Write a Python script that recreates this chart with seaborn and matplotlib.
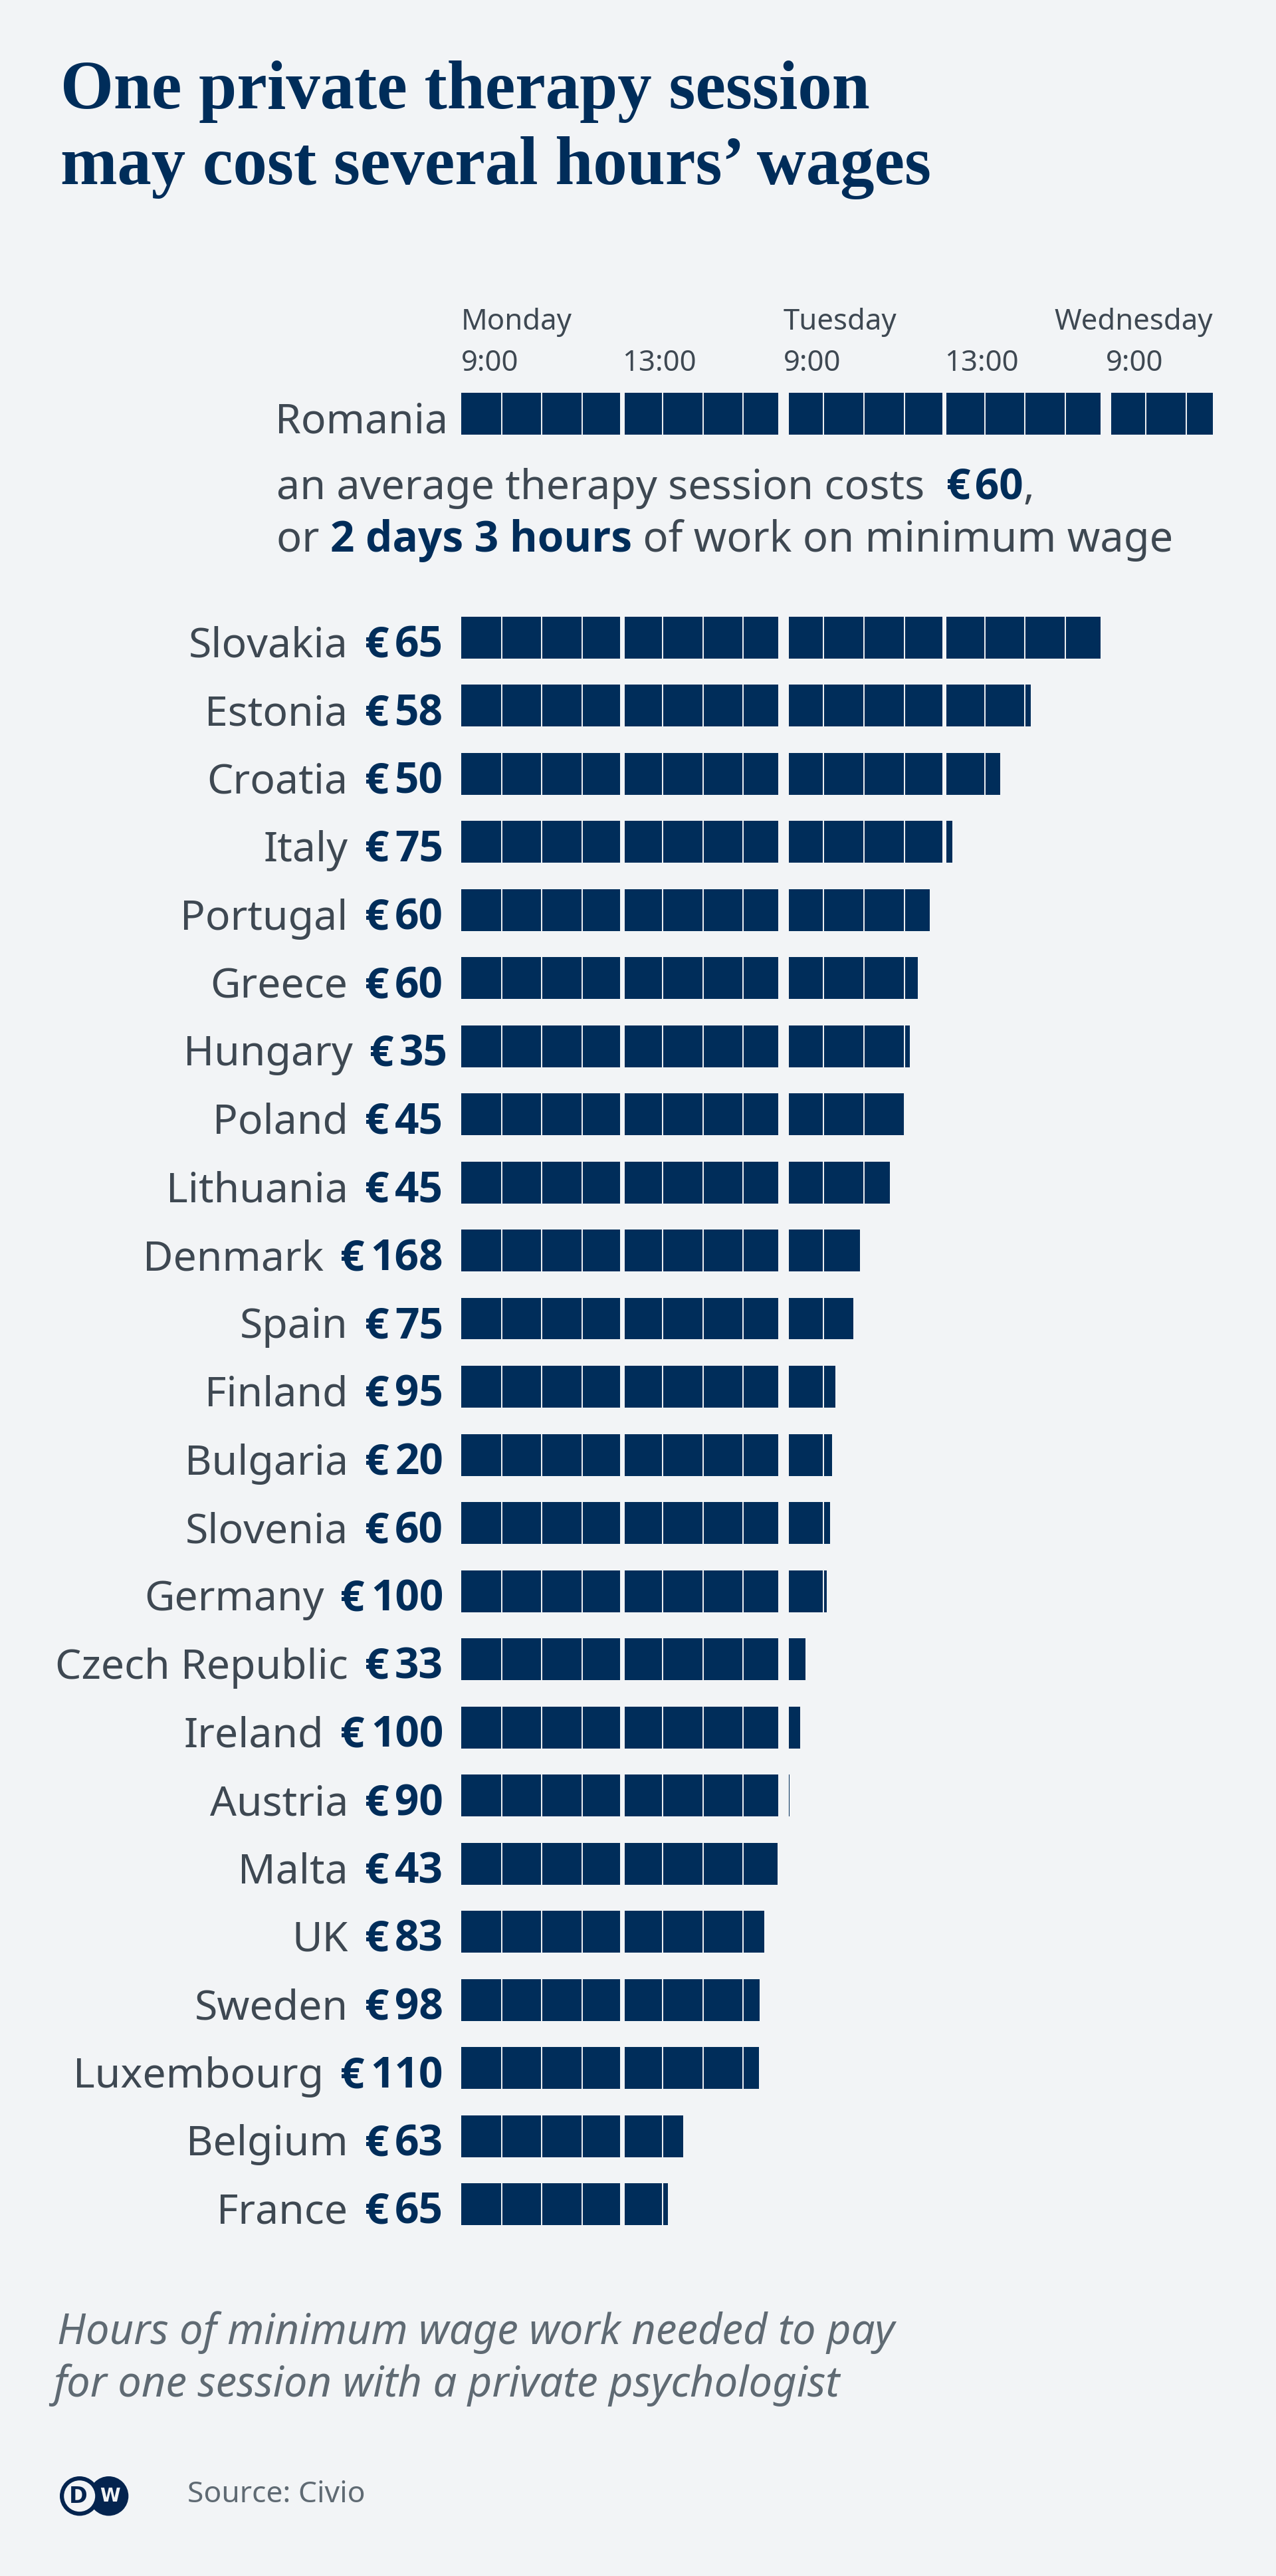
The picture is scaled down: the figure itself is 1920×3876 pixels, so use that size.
import matplotlib
matplotlib.use("Agg")
import matplotlib.pyplot as plt
from matplotlib.patches import Circle
import seaborn as sns
import pandas as pd

# Data (hours of minimum wage work per session)
countries = ["Slovakia", "Estonia", "Croatia", "Italy", "Portugal", "Greece", "Hungary", "Poland",
             "Lithuania", "Denmark", "Spain", "Finland", "Bulgaria", "Slovenia", "Germany",
             "Czech Republic", "Ireland", "Austria", "Malta", "UK", "Sweden", "Luxembourg",
             "Belgium", "France"]
prices = [65, 58, 50, 75, 60, 60, 35, 45, 45, 168, 75, 95, 20, 60, 100, 33, 100, 90, 43, 83, 98, 110, 63, 65]
hours = [15.9, 14.14, 13.39, 12.2, 11.63, 11.34, 11.14, 11.0, 10.65, 9.9, 9.73, 9.29, 9.21, 9.16, 9.07,
         8.55, 8.42, 8.15, 7.86, 7.53, 7.41, 7.39, 5.51, 5.13]
top_country = ["Romania"]
top_hours = [18.67]
hour_ticks = [0, 4, 8, 12, 16]
hour_labels = ["9:00", "13:00", "9:00", "13:00", "9:00"]
day_ticks = [0, 8]
day_labels = ["Monday", "Tuesday"]

BG = "#f2f4f6"
BLUE = "#002d5a"
GREY = "#3e4852"
GREY2 = "#5f6a73"
BOLD = ["Open Sans", "DejaVu Sans"]
REG = ["Noto Sans", "DejaVu Sans"]
W, H = 1920, 3876
PX = 0.72  # points per pixel at dpi 100
X0, HOUR_PX = 694, 60.6
ROW_PX = 102.5
BAR = 63 / ROW_PX

sns.set_theme(style="white")
plt.rcParams["font.family"] = REG

fig = plt.figure(figsize=(W / 100, H / 100), dpi=100, facecolor=BG)
renderer = fig.canvas.get_renderer()

# overlay in pixel coordinates for the free text
bg = fig.add_axes([0, 0, 1, 1])
bg.set_xlim(0, W)
bg.set_ylim(H, 0)
bg.axis("off")


def pos_axes(top, height):
    xmax = 20
    return fig.add_axes([X0 / W, 1 - (top + height) / H, xmax * HOUR_PX / W, height / H])


def draw_bars(ax, names, values):
    df = pd.DataFrame({"country": names, "hours": values})
    sns.barplot(data=df, x="hours", y="country", orient="h", color=BLUE, saturation=1,
                width=BAR, linewidth=0, ax=ax)
    ax.set_xlim(0, 20)
    ax.set_ylim(len(names) - 0.5, -0.5)
    ax.axis("off")
    # pale hour lines, wider cuts at midday and overnight
    for h in range(1, 20):
        if h % 8 == 0:
            ax.axvspan(h - 8 / HOUR_PX, h + 8 / HOUR_PX, color=BG, lw=0, zorder=5)
        elif h % 4 == 0:
            ax.axvspan(h - 3.2 / HOUR_PX, h + 3.2 / HOUR_PX, color=BG, lw=0, zorder=5)
        else:
            ax.axvline(h, color=BG, lw=1.4, zorder=5)


def flow(x, y, parts, size=45.5):
    # consecutive text runs on one baseline
    for txt, fam, col in parts:
        bold = fam is BOLD
        t = bg.text(x, y, txt, fontsize=46 if bold else size, family=fam, fontweight="bold" if bold else "normal",
                    color=col, ha="left", va="baseline")
        x = bg.transData.inverted().transform(t.get_window_extent(renderer))[1, 0]
    return x


ax_top = pos_axes(622 - ROW_PX / 2, ROW_PX)
draw_bars(ax_top, top_country, top_hours)
ax = pos_axes(959 - ROW_PX / 2, ROW_PX * len(countries))
draw_bars(ax, countries, hours)


def row_text(txt, i, dx, **kw):
    return ax.annotate(txt, xy=(0, i), xytext=(dx * PX, -29.5 * PX), textcoords="offset points", ha="right",
                       va="baseline", annotation_clip=False, **kw)


# Row labels: amount flush right, euro sign and country flowing to its left
for i, (name, price) in enumerate(zip(countries, prices)):
    right = -27 if name != "Hungary" else -20
    num = row_text(str(price), i, right, fontsize=46, fontweight="bold", family=BOLD, color=BLUE)
    left = num.get_window_extent(renderer).x0 - X0
    eur = row_text("€", i, left - 9, fontsize=46, fontweight="bold", family=BOLD, color=BLUE)
    left = eur.get_window_extent(renderer).x0 - X0
    row_text(name, i, left - 25, fontsize=45, color=GREY)

ax_top.annotate(top_country[0], xy=(0, 0), xytext=(-20 * PX, -30 * PX), textcoords="offset points",
                ha="right", va="baseline", fontsize=45, color=GREY, annotation_clip=False)

# time scale above the Romania bar
for h, lab in zip(hour_ticks, hour_labels):
    ax_top.annotate(lab, xy=(h, 0), xytext=(0, 64 * PX), textcoords="offset points", ha="left",
                    va="baseline", fontsize=31.5, color=GREY, annotation_clip=False)
for h, lab in zip(day_ticks, day_labels):
    ax_top.annotate(lab, xy=(h, 0), xytext=(0, 126 * PX), textcoords="offset points", ha="left",
                    va="baseline", fontsize=31.5, color=GREY, annotation_clip=False)
ax_top.annotate("Wednesday", xy=(top_hours[0], 0), xytext=(0, 126 * PX), textcoords="offset points", ha="right",
                va="baseline", fontsize=31.5, color=GREY, annotation_clip=False)

# Title
bg.text(91, 163, "One private therapy session", fontsize=74, fontweight="bold", color=BLUE,
        family="Liberation Serif", va="baseline")
bg.text(91, 277, "may cost several hours’ wages", fontsize=74, fontweight="bold", color=BLUE,
        family="Liberation Serif", va="baseline")

# Romania note
flow(416, 751, [("an average therapy session costs  ", REG, GREY), ("€\u200a60", BOLD, BLUE), (",", REG, GREY)], size=45.1)
flow(416, 830, [("or ", REG, GREY), ("2 days 3 hours", BOLD, BLUE), (" of work on minimum wage", REG, GREY)])

# Caption and source
bg.text(86, 3527, "Hours of minimum wage work needed to pay", fontsize=45.5, style="italic", color=GREY2, va="baseline")
bg.text(80, 3606, "for one session with a private psychologist", fontsize=45.5, style="italic", color=GREY2, va="baseline")
bg.text(282, 3765, "Source: Civio", fontsize=32, color=GREY2, va="baseline")

# DW logo
LOGO = "#04244f"
bg.add_patch(Circle((163.6, 3755.7), 29.7, color=LOGO, lw=0))
bg.add_patch(Circle((119.7, 3755.7), 29.7, color=LOGO, lw=0))
bg.add_patch(Circle((119.7, 3755.7), 23.5, color=BG, lw=0))
bg.text(118, 3756, "D", fontsize=24, fontweight="bold", color=LOGO, family="DejaVu Sans", ha="center", va="center")
bg.text(165, 3756, "W", fontsize=20, fontweight="bold", color=BG, family="DejaVu Sans", ha="center", va="center")

fig.savefig("out.png", dpi=100, facecolor=BG)
